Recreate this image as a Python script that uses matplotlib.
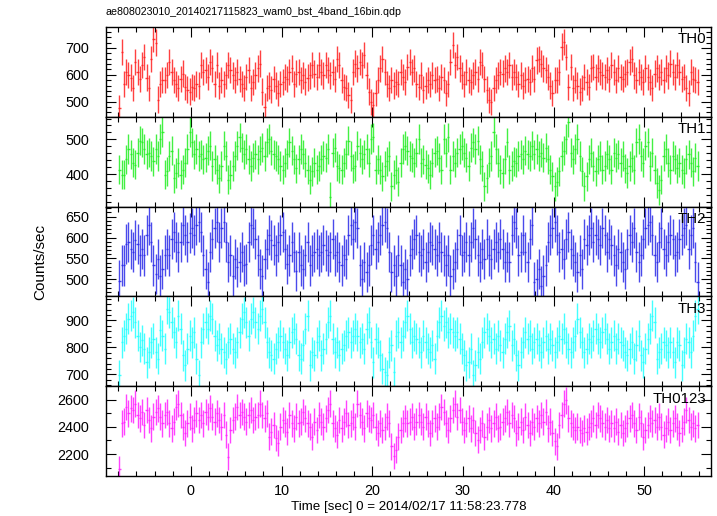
import numpy as np
import matplotlib
matplotlib.use("Agg")
import matplotlib.pyplot as plt
from matplotlib.ticker import MultipleLocator

plt.rcParams['font.family'] = ['Liberation Sans', 'DejaVu Sans']

title = "ae808023010_20140217115823_wam0_bst_4band_16bin.qdp"
xlabel = "Time [sec] 0 = 2014/02/17 11:58:23.778"
ylabel = "Counts/sec"
bands = ["TH0", "TH1", "TH2", "TH3", "TH0123"]
t_start = -8.0
bin_width = 0.25

th0 = [477, 685, 565, 610, 600, 590, 550, 648, 610, 585,
       636, 667, 590, 550, 660, 735, 720, 508, 565, 580,
       580, 600, 648, 610, 580, 567, 550, 585, 605, 555,
       545, 538, 555, 550, 567, 560, 636, 610, 617, 592,
       648, 624, 567, 636, 560, 580, 567, 598, 636, 617,
       598, 580, 610, 585, 567, 550, 592, 617, 550, 573,
       598, 624, 642, 538, 482, 550, 560, 545, 585, 560,
       532, 567, 573, 592, 585, 610, 624, 567, 605, 610,
       580, 598, 575, 590,
       598, 636, 605, 592, 636, 610, 598, 636, 617,
       598, 610, 585, 660, 636, 580, 555, 550, 525, 507,
       610, 642, 624, 648, 636, 673, 598, 538, 500, 488,
       532, 580, 624, 660, 610, 567, 550, 580, 560, 573,
       567, 610, 592, 573, 630, 648, 610, 624, 567, 555,
       598, 545, 560, 580, 567, 598, 580, 585, 550, 592,
       580, 532, 567, 648, 710, 636, 667, 624, 598, 567,
       610, 580, 573, 598, 610, 585, 648, 636, 585, 545,
       507, 500, 550, 580, 598, 610, 605, 624, 610,
       636, 592, 610, 592, 567, 598, 560, 580, 585, 573,
       624, 585, 654, 660, 642, 624, 617, 592, 560, 532,
       580, 580, 610, 705, 722, 667, 555, 630, 550, 580,
       560, 538, 550, 592, 573, 555, 624, 630, 592, 624,
       610, 598, 592, 617, 585, 636, 610, 580, 624, 592,
       585, 605, 610, 648, 660, 598, 580, 610, 592, 573,
       624, 592, 573, 550, 605, 624, 592, 610, 580, 624,
       598, 642, 610, 592, 636, 610, 585, 592, 550, 532,
       610, 585, 580, 573]

th1 = [413, 398, 398, 442, 472, 457, 432, 427, 462, 496,
       491, 472, 457, 462, 452, 437, 472, 452, 501, 521,
       398, 408, 452, 467, 388, 403, 432, 398, 413, 432,
       472, 521, 491, 457, 472, 452, 457, 442, 447, 467,
       481, 423, 442, 413, 388, 423, 481, 452, 383, 398,
       423, 452, 481, 506, 476, 457, 472, 442, 423, 447,
       457, 442, 467, 476, 452, 491, 501, 467, 457, 452,
       442, 423, 413, 432, 457, 491, 467, 442, 417, 442,
       472, 457, 432, 413,
       383, 408, 432, 413, 423, 442, 452, 447, 472, 334,
       462, 476, 423, 417, 413, 432, 457, 496, 452, 417,
       423, 481, 462, 442, 457, 472, 432, 501, 506, 413,
       442, 413, 393, 423, 437, 452, 364, 398, 413, 378,
       432, 472, 481, 467, 452, 447, 432, 462, 501, 432,
       442, 427, 417, 398, 432, 462, 467, 447, 413, 501,
       462, 506, 413, 452, 432, 462, 472, 481, 462, 447,
       423, 476, 491, 472, 496, 442, 423, 364, 388, 432,
       452, 521, 472, 432, 413, 403, 442, 491,
       413, 423, 437, 432, 452, 457, 442, 467, 457, 452,
       481, 457, 472, 452, 462, 447, 476, 442, 413, 393,
       364, 378, 408, 452, 467, 501, 550, 462, 442, 472,
       501, 452, 408, 364, 393, 442, 462, 423, 408, 442,
       452, 413, 423, 457, 442, 413, 462, 447, 457, 432,
       452, 417, 403, 423, 447, 413, 491, 501, 452, 432,
       481, 491, 423, 462, 413, 374, 354, 383, 452, 472,
       432, 413, 452, 442, 417, 432, 413, 403, 442, 457,
       432, 408, 447, 423]

th2 = [497, 533, 533, 585, 589, 573, 565, 593, 585, 557,
       573, 557, 606, 630, 589, 533, 513, 549, 509, 525,
       557, 573, 557, 597, 614, 589, 565, 589, 630, 606,
       589, 610, 622, 606, 630, 638, 614, 557, 525, 493,
       565, 597, 622, 638, 589, 622, 638, 589, 541, 557,
       509, 549, 529, 541, 565, 533, 537, 589, 630, 622,
       597, 557, 525, 509, 549, 573, 606, 593, 581, 557,
       589, 606, 614, 573, 537, 557, 589, 565, 521, 565,
       533, 525, 557, 589,
       533, 557, 565, 573, 557, 565, 581, 569, 557, 565,
       597, 557, 565, 541, 533, 557, 549, 606, 630, 597,
       638, 622, 533, 501, 541, 517, 533, 581, 606, 573,
       589, 606, 630, 638, 622, 565, 517, 533, 509, 557,
       533, 493, 525, 501, 557, 573, 597, 606, 565, 557,
       573, 541, 565, 589, 581, 573, 557, 589, 565, 557,
       533, 557, 509, 525, 541, 573, 606, 557, 565, 589,
       557, 589, 622, 597, 557, 541, 573, 549, 597, 557,
       549, 573, 589, 565, 597, 573, 541, 565,
       541, 606, 638, 622, 557, 565, 606, 565, 541, 597,
       630, 493, 501, 525, 484, 509, 533, 589, 606, 622,
       638, 606, 565, 573, 549, 597, 614, 573, 557, 541,
       517, 557, 525, 597, 581, 606, 622, 589, 606, 597,
       581, 622, 606, 565, 597, 581, 557, 533, 573, 565,
       541, 525, 573, 606, 589, 622, 565, 541, 557, 597,
       622, 630, 638, 606, 557, 541, 589, 622, 573, 557,
       589, 606, 597, 557, 565, 597, 606, 622, 630, 573,
       606, 622, 541, 493]

th3 = [696, 819, 844, 869, 906, 918, 930, 893, 844, 801,
       826, 795, 745, 782, 819, 832, 782, 758, 863, 844,
       795, 943, 930, 893, 856, 819, 918, 869, 770, 733,
       795, 844, 819, 856, 758, 696, 819, 869, 893, 869,
       918, 906, 844, 807, 832, 795, 782, 758, 819, 832,
       795, 782, 819, 856, 906, 930, 893, 844, 906, 930,
       893, 869, 918, 943, 893, 819, 782, 770, 758, 795,
       819, 844, 819, 795, 770, 819, 856, 869, 832, 770,
       758, 807, 869, 918,
       733, 782, 770, 819, 844, 770, 795, 832, 893, 918,
       832, 782, 819, 770, 795, 807, 844, 856, 819, 844,
       869, 844, 819, 832, 795, 869, 893, 819, 745, 832,
       819, 770, 721, 708, 696, 782, 807, 708, 844, 856,
       819, 844, 893, 918, 869, 819, 844, 832, 819, 782,
       844, 819, 795, 782, 807, 758, 844, 893, 918, 881,
       893, 856, 869, 856, 844, 856, 832, 795, 770, 733,
       745, 795, 696, 733, 782, 758, 819, 856, 869, 844,
       819, 832, 795, 844, 807, 782, 832, 856,
       881, 807, 832, 770, 733, 782, 819, 856, 832, 844,
       795, 819, 832, 807, 782, 819, 844, 795, 832, 807,
       782, 819, 844, 832, 869, 819, 795, 782, 819, 844,
       906, 856, 819, 782, 795, 832, 819, 844, 869, 832,
       819, 856, 869, 832, 795, 819, 844, 795, 832, 819,
       807, 782, 770, 795, 819, 758, 807, 844, 770, 745,
       795, 832, 869, 918, 893, 758, 782, 795, 819, 807,
       782, 819, 782, 745, 819, 807, 733, 782, 832, 819,
       782, 844, 918, 943]

th0123 = [2087, 2426, 2438, 2548, 2499, 2536, 2524, 2572, 2487, 2463,
          2511, 2414, 2524, 2451, 2390, 2475, 2511, 2536, 2475, 2426,
          2487, 2511, 2426, 2390, 2438, 2548, 2572, 2487, 2402, 2354,
          2426, 2475, 2390, 2451, 2499, 2451, 2487, 2426, 2511, 2475,
          2536, 2475, 2438, 2499, 2451, 2402, 2487, 2342, 2180, 2378,
          2451, 2475, 2548, 2487, 2511, 2475, 2438, 2487, 2524, 2451,
          2475, 2487, 2572, 2487, 2463, 2499, 2329, 2366, 2414, 2317,
          2281, 2402, 2451, 2426, 2366, 2487, 2426, 2390, 2475, 2426,
          2438, 2511, 2463, 2426,
          2402, 2329, 2438, 2378, 2487, 2438, 2402, 2463, 2524, 2572,
          2426, 2390, 2342, 2451, 2390, 2438, 2499, 2414, 2426, 2475,
          2402, 2572, 2487, 2438, 2390, 2499, 2463, 2451, 2487, 2402,
          2354, 2426, 2378, 2402, 2475, 2426, 2257, 2184, 2232, 2329,
          2378, 2426, 2463, 2426, 2438, 2475, 2402, 2438, 2487, 2438,
          2402, 2475, 2426, 2354, 2426, 2463, 2402, 2475, 2548, 2511,
          2426, 2378, 2463, 2524, 2572, 2475, 2524, 2438, 2378, 2426,
          2463, 2390, 2451, 2354, 2305, 2378, 2426, 2329, 2402, 2451,
          2390, 2426, 2475, 2390, 2402, 2438, 2463, 2511,
          2426, 2487, 2463, 2354, 2402, 2438, 2378, 2475, 2414, 2354,
          2438, 2402, 2463, 2426, 2487, 2438, 2511, 2390, 2438, 2354,
          2293, 2257, 2414, 2487, 2572, 2596, 2463, 2426, 2402, 2378,
          2402, 2378, 2354, 2390, 2366, 2402, 2426, 2463, 2414, 2487,
          2463, 2426, 2402, 2451, 2390, 2426, 2390, 2438, 2366, 2414,
          2354, 2390, 2426, 2463, 2487, 2426, 2378, 2475, 2426, 2329,
          2378, 2414, 2463, 2426, 2451, 2402, 2475, 2402, 2342, 2390,
          2438, 2378, 2426, 2463, 2402, 2354, 2390, 2438, 2524, 2451,
          2402, 2426, 2390, 2414]

errors = [49, 42, 48, 57, 98]
series = [th0, th1, th2, th3, th0123]
colors = ['#ff2020', '#22ee22', '#2a2ae8', '#22ffff', '#ff22ff']
ylims = [(444, 778), (306, 565), (459, 674), (656, 989), (2038, 2700)]
major_steps = [100, 100, 50, 100, 200]
minor_steps = [20, 20, 10, 20, 100]

W, H = 717, 516
fig = plt.figure(figsize=(W / 100, H / 100), dpi=100)
left_px, right_px, top_px, bottom_px = 106, 711, 27, 476
ph = (bottom_px - top_px) / 5.0
tick_fs = 10.4
label_fs = 10.8

axes = []
for i in range(5):
    y0 = top_px + ph * (i + 1)
    ax = fig.add_axes([left_px / W, 1 - y0 / H, (right_px - left_px) / W, ph / H])
    axes.append(ax)
    vals = np.array(series[i], dtype=float)
    t = t_start + bin_width * (np.arange(len(vals)) + 0.5)
    ax.errorbar(t, vals, xerr=bin_width / 2, yerr=errors[i], fmt='none',
                ecolor=colors[i], elinewidth=1.0, alpha=0.85, capsize=0)
    ax.set_xlim(-9.35, 57.35)
    ax.set_ylim(*ylims[i])
    ax.xaxis.set_major_locator(MultipleLocator(10))
    ax.xaxis.set_minor_locator(MultipleLocator(2))
    ax.yaxis.set_major_locator(MultipleLocator(major_steps[i]))
    ax.yaxis.set_minor_locator(MultipleLocator(minor_steps[i]))
    ax.tick_params(which='both', direction='in', top=True, right=True,
                   labelsize=tick_fs, width=0.8)
    ax.tick_params(which='major', length=7)
    ax.tick_params(which='minor', length=3.5)
    ax.tick_params(axis='y', which='major', pad=12)
    ax.tick_params(axis='x', which='major', pad=6)
    for s in ax.spines.values():
        s.set_linewidth(1.0)
    if i < 4:
        ax.tick_params(labelbottom=False)
    ax.text(0.992, 0.94, bands[i], transform=ax.transAxes, ha='right', va='top',
            fontsize=label_fs)

axes[-1].set_xlabel(xlabel, fontsize=9.6, labelpad=2)
fig.text(left_px / W, 1 - 12 / H, title, fontsize=7.7, ha='left', va='center')
fig.text(40 / W, 1 - 262 / H, ylabel, fontsize=11, rotation=90,
         ha='center', va='center')

fig.savefig("out.png", dpi=100)
